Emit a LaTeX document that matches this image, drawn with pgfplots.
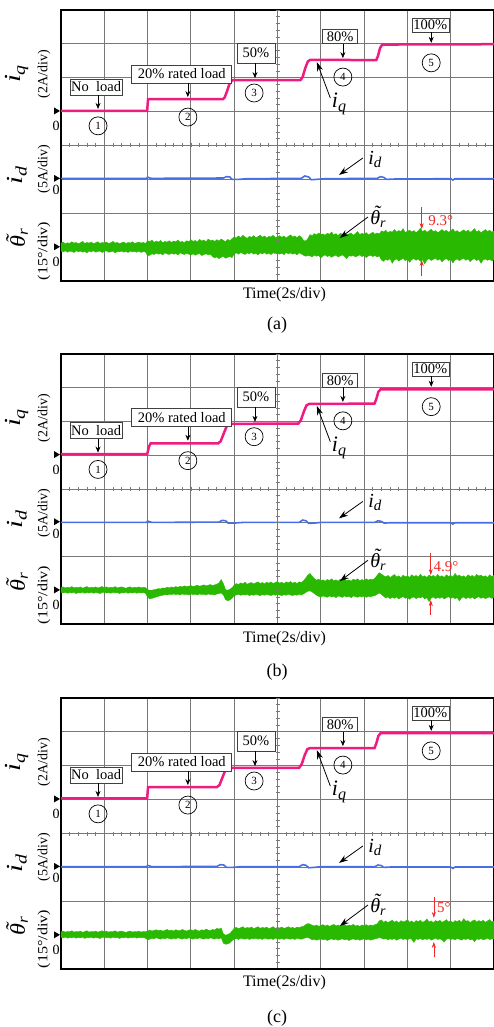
\documentclass[border=0pt]{standalone}
\usepackage{fontspec}
\setmainfont{Liberation Serif}
\usepackage{pgfplots}
\pgfplotsset{compat=1.18}
\usepackage{pgfplotstable}
\usepgfplotslibrary{fillbetween}
\usetikzlibrary{arrows.meta}
\definecolor{iqc}{RGB}{238,28,128}
\definecolor{idc}{RGB}{70,110,230}
\definecolor{thc}{RGB}{40,185,0}
\definecolor{gridc}{RGB}{120,120,120}
\definecolor{redc}{RGB}{240,40,40}
\newcommand{\fs}[1]{\fontsize{#1}{#1}\selectfont}
\newcommand{\tth}{\textit{\rlap{\hspace{0.17em}\raisebox{0.22em}{˜}}θ}}

\pgfplotstableread{
x top bot
0.00 1.12 0.88
0.05 1.15 0.86
0.10 1.10 0.89
0.15 1.13 0.85
0.20 1.11 0.88
0.25 1.16 0.87
0.30 1.12 0.84
0.35 1.14 0.89
0.40 1.10 0.86
0.45 1.13 0.88
0.50 1.17 0.85
0.55 1.11 0.87
0.60 1.14 0.83
0.65 1.12 0.88
0.70 1.15 0.86
0.75 1.10 0.89
0.80 1.13 0.85
0.85 1.16 0.87
0.90 1.11 0.88
0.95 1.14 0.84
1.00 1.12 0.87
1.05 1.15 0.89
1.10 1.11 0.85
1.15 1.13 0.86
1.20 1.17 0.88
1.25 1.12 0.83
1.30 1.14 0.87
1.35 1.10 0.86
1.40 1.13 0.88
1.45 1.15 0.85
1.50 1.11 0.87
1.55 1.14 0.84
1.60 1.12 0.88
1.65 1.16 0.86
1.70 1.11 0.87
1.75 1.13 0.85
1.80 1.15 0.88
1.85 1.12 0.84
1.90 1.14 0.87
1.95 1.11 0.86
2.00 1.19 0.74
2.05 1.16 0.76
2.10 1.21 0.80
2.15 1.14 0.78
2.20 1.18 0.82
2.25 1.15 0.79
2.30 1.20 0.81
2.35 1.13 0.77
2.40 1.17 0.83
2.45 1.15 0.80
2.50 1.19 0.78
2.55 1.14 0.82
2.60 1.18 0.79
2.65 1.16 0.81
2.70 1.21 0.77
2.75 1.15 0.83
2.80 1.17 0.80
2.85 1.13 0.78
2.90 1.19 0.82
2.95 1.16 0.79
3.00 1.22 0.77
3.05 1.17 0.80
3.10 1.20 0.76
3.15 1.15 0.79
3.20 1.23 0.81
3.25 1.18 0.75
3.30 1.21 0.78
3.35 1.16 0.80
3.40 1.24 0.77
3.45 1.19 0.79
3.50 1.21 0.72
3.55 1.17 0.68
3.60 1.22 0.71
3.65 1.18 0.66
3.70 1.24 0.70
3.75 1.20 0.73
3.80 1.16 0.67
3.85 1.23 0.70
3.90 1.19 0.72
3.95 1.25 0.69
4.00 1.30 0.80
4.05 1.27 0.83
4.10 1.33 0.79
4.15 1.28 0.84
4.20 1.35 0.81
4.25 1.30 0.78
4.30 1.26 0.83
4.35 1.32 0.80
4.40 1.29 0.85
4.45 1.34 0.79
4.50 1.28 0.82
4.55 1.31 0.77
4.60 1.36 0.83
4.65 1.29 0.80
4.70 1.33 0.84
4.75 1.27 0.79
4.80 1.32 0.82
4.85 1.30 0.78
4.90 1.35 0.83
4.95 1.28 0.81
5.00 1.31 0.85
5.05 1.34 0.79
5.10 1.29 0.82
5.15 1.33 0.78
5.20 1.27 0.84
5.25 1.32 0.80
5.30 1.36 0.83
5.35 1.30 0.79
5.40 1.33 0.82
5.45 1.28 0.77
5.50 1.34 0.83
5.55 1.30 0.80
5.60 1.20 0.76
5.65 1.18 0.73
5.70 1.25 0.75
5.75 1.37 0.74
5.80 1.34 0.71
5.85 1.40 0.76
5.90 1.36 0.73
5.95 1.42 0.75
6.00 1.37 0.68
6.05 1.39 0.74
6.10 1.35 0.77
6.15 1.41 0.72
6.20 1.38 0.75
6.25 1.45 0.70
6.30 1.36 0.74
6.35 1.40 0.76
6.40 1.34 0.71
6.45 1.41 0.74
6.50 1.38 0.77
6.55 1.43 0.72
6.60 1.36 0.66
6.65 1.39 0.75
6.70 1.42 0.73
6.75 1.35 0.76
6.80 1.40 0.71
6.85 1.46 0.74
6.90 1.37 0.77
6.95 1.41 0.72
7.00 1.38 0.75
7.05 1.43 0.69
7.10 1.36 0.74
7.15 1.40 0.76
7.20 1.44 0.72
7.25 1.38 0.75
7.30 1.42 0.71
7.35 1.39 0.74
7.40 1.48 0.62
7.45 1.45 0.58
7.50 1.50 0.64
7.55 1.43 0.61
7.60 1.47 0.66
7.65 1.44 0.52
7.70 1.52 0.62
7.75 1.45 0.65
7.80 1.49 0.59
7.85 1.46 0.63
7.90 1.55 0.67
7.95 1.43 0.60
8.00 1.47 0.64
8.05 1.50 0.55
8.10 1.45 0.63
8.15 1.49 0.66
8.20 1.43 0.61
8.25 1.48 0.65
8.30 1.56 0.58
8.35 1.46 0.63
8.40 1.50 0.50
8.45 1.44 0.62
8.50 1.48 0.66
8.55 1.53 0.60
8.60 1.45 0.64
8.65 1.49 0.67
8.70 1.43 0.61
8.75 1.47 0.65
8.80 1.52 0.56
8.85 1.46 0.63
8.90 1.50 0.66
8.95 1.44 0.60
9.00 1.48 0.64
9.05 1.54 0.53
9.10 1.45 0.62
9.15 1.49 0.65
9.20 1.43 0.60
9.25 1.47 0.64
9.30 1.51 0.67
9.35 1.46 0.61
9.40 1.50 0.65
9.45 1.44 0.57
9.50 1.48 0.63
9.55 1.55 0.66
9.60 1.45 0.60
9.65 1.49 0.64
9.70 1.43 0.52
9.75 1.47 0.62
9.80 1.52 0.65
9.85 1.46 0.61
9.90 1.50 0.64
9.95 1.44 0.59
10.00 1.48 0.63
}\thA

\pgfplotstableread{
x top bot
0.00 1.08 0.93
0.05 1.10 0.92
0.10 1.07 0.94
0.15 1.09 0.91
0.20 1.08 0.93
0.25 1.11 0.92
0.30 1.07 0.94
0.35 1.09 0.90
0.40 1.08 0.93
0.45 1.10 0.92
0.50 1.06 0.94
0.55 1.09 0.91
0.60 1.11 0.93
0.65 1.07 0.92
0.70 1.09 0.94
0.75 1.08 0.91
0.80 1.10 0.93
0.85 1.07 0.92
0.90 1.09 0.90
0.95 1.11 0.93
1.00 1.08 0.94
1.05 1.10 0.92
1.10 1.07 0.93
1.15 1.09 0.91
1.20 1.08 0.94
1.25 1.11 0.92
1.30 1.07 0.93
1.35 1.09 0.90
1.40 1.10 0.93
1.45 1.08 0.92
1.50 1.06 0.94
1.55 1.09 0.91
1.60 1.10 0.93
1.65 1.07 0.92
1.70 1.09 0.94
1.75 1.08 0.91
1.80 1.10 0.93
1.85 1.07 0.92
1.90 1.09 0.93
1.95 1.08 0.91
2.00 1.02 0.80
2.05 0.99 0.74
2.10 1.00 0.76
2.15 1.02 0.78
2.20 1.03 0.80
2.25 1.05 0.82
2.30 1.04 0.84
2.35 1.07 0.85
2.40 1.06 0.87
2.45 1.09 0.86
2.50 1.07 0.88
2.55 1.10 0.87
2.60 1.08 0.89
2.65 1.11 0.87
2.70 1.09 0.88
2.75 1.12 0.86
2.80 1.10 0.89
2.85 1.13 0.87
2.90 1.11 0.88
2.95 1.12 0.86
3.00 1.14 0.89
3.05 1.11 0.87
3.10 1.13 0.88
3.15 1.15 0.86
3.20 1.12 0.89
3.25 1.14 0.87
3.30 1.16 0.88
3.35 1.13 0.86
3.40 1.15 0.89
3.45 1.17 0.87
3.50 1.14 0.88
3.55 1.16 0.86
3.60 1.18 0.89
3.65 1.22 0.90
3.70 1.32 0.92
3.75 1.20 0.86
3.80 1.02 0.72
3.85 1.00 0.69
3.90 1.03 0.71
3.95 1.08 0.76
4.00 1.15 0.84
4.05 1.20 0.86
4.10 1.17 0.88
4.15 1.22 0.85
4.20 1.19 0.87
4.25 1.24 0.86
4.30 1.18 0.88
4.35 1.21 0.84
4.40 1.23 0.87
4.45 1.19 0.85
4.50 1.22 0.88
4.55 1.25 0.86
4.60 1.20 0.84
4.65 1.23 0.87
4.70 1.19 0.85
4.75 1.24 0.88
4.80 1.21 0.86
4.85 1.25 0.84
4.90 1.20 0.87
4.95 1.23 0.85
5.00 1.26 0.88
5.05 1.21 0.86
5.10 1.24 0.84
5.15 1.20 0.87
5.20 1.25 0.85
5.25 1.22 0.88
5.30 1.26 0.86
5.35 1.21 0.84
5.40 1.24 0.87
5.45 1.20 0.85
5.50 1.25 0.88
5.55 1.23 0.86
5.60 1.28 0.89
5.65 1.36 0.93
5.70 1.45 0.97
5.75 1.50 0.98
5.80 1.42 0.95
5.85 1.35 0.90
5.90 1.30 0.85
5.95 1.33 0.82
6.00 1.28 0.80
6.05 1.31 0.83
6.10 1.27 0.81
6.15 1.32 0.79
6.20 1.29 0.83
6.25 1.34 0.80
6.30 1.28 0.82
6.35 1.31 0.78
6.40 1.27 0.83
6.45 1.33 0.81
6.50 1.30 0.79
6.55 1.35 0.83
6.60 1.28 0.80
6.65 1.31 0.82
6.70 1.27 0.78
6.75 1.33 0.83
6.80 1.30 0.81
6.85 1.34 0.79
6.90 1.28 0.82
6.95 1.32 0.80
7.00 1.29 0.83
7.05 1.34 0.79
7.10 1.30 0.82
7.15 1.33 0.80
7.20 1.31 0.83
7.25 1.36 0.84
7.30 1.44 0.88
7.35 1.52 0.92
7.40 1.48 0.88
7.45 1.43 0.82
7.50 1.40 0.77
7.55 1.44 0.80
7.60 1.38 0.75
7.65 1.42 0.79
7.70 1.47 0.76
7.75 1.39 0.80
7.80 1.43 0.74
7.85 1.37 0.78
7.90 1.45 0.81
7.95 1.40 0.76
8.00 1.43 0.79
8.05 1.38 0.73
8.10 1.46 0.78
8.15 1.41 0.80
8.20 1.44 0.75
8.25 1.39 0.79
8.30 1.48 0.77
8.35 1.40 0.81
8.40 1.43 0.74
8.45 1.38 0.78
8.50 1.45 0.66
8.55 1.41 0.77
8.60 1.44 0.80
8.65 1.39 0.75
8.70 1.47 0.79
8.75 1.40 0.76
8.80 1.43 0.80
8.85 1.38 0.74
8.90 1.46 0.78
8.95 1.41 0.81
9.00 1.44 0.76
9.05 1.39 0.79
9.10 1.50 0.75
9.15 1.42 0.78
9.20 1.45 0.68
9.25 1.40 0.77
9.30 1.43 0.80
9.35 1.38 0.75
9.40 1.46 0.79
9.45 1.41 0.76
9.50 1.44 0.80
9.55 1.39 0.74
9.60 1.47 0.78
9.65 1.42 0.81
9.70 1.45 0.76
9.75 1.40 0.79
9.80 1.43 0.75
9.85 1.38 0.78
9.90 1.46 0.80
9.95 1.41 0.76
10.00 1.44 0.79
}\thB

\pgfplotstableread{
x top bot
0.00 1.10 0.93
0.05 1.12 0.92
0.10 1.09 0.94
0.15 1.11 0.91
0.20 1.10 0.93
0.25 1.13 0.92
0.30 1.09 0.94
0.35 1.11 0.91
0.40 1.10 0.93
0.45 1.12 0.92
0.50 1.08 0.94
0.55 1.11 0.90
0.60 1.13 0.93
0.65 1.09 0.92
0.70 1.11 0.94
0.75 1.10 0.91
0.80 1.12 0.93
0.85 1.09 0.92
0.90 1.11 0.90
0.95 1.13 0.93
1.00 1.10 0.94
1.05 1.12 0.92
1.10 1.09 0.93
1.15 1.11 0.91
1.20 1.10 0.94
1.25 1.13 0.92
1.30 1.09 0.93
1.35 1.11 0.90
1.40 1.12 0.93
1.45 1.10 0.92
1.50 1.08 0.94
1.55 1.11 0.91
1.60 1.12 0.93
1.65 1.09 0.92
1.70 1.11 0.94
1.75 1.10 0.91
1.80 1.12 0.93
1.85 1.09 0.92
1.90 1.11 0.93
1.95 1.10 0.91
2.00 1.12 0.86
2.05 1.15 0.88
2.10 1.12 0.91
2.15 1.14 0.89
2.20 1.16 0.92
2.25 1.13 0.90
2.30 1.15 0.88
2.35 1.12 0.91
2.40 1.14 0.89
2.45 1.17 0.92
2.50 1.13 0.90
2.55 1.15 0.88
2.60 1.12 0.91
2.65 1.16 0.89
2.70 1.14 0.92
2.75 1.13 0.90
2.80 1.17 0.88
2.85 1.14 0.91
2.90 1.12 0.89
2.95 1.15 0.92
3.00 1.16 0.90
3.05 1.13 0.88
3.10 1.17 0.91
3.15 1.14 0.89
3.20 1.12 0.92
3.25 1.16 0.90
3.30 1.14 0.88
3.35 1.18 0.91
3.40 1.15 0.89
3.45 1.13 0.92
3.50 1.17 0.90
3.55 1.15 0.88
3.60 1.20 0.91
3.65 1.18 0.89
3.70 1.21 0.92
3.75 1.04 0.76
3.80 1.00 0.73
3.85 1.02 0.74
3.90 1.05 0.77
3.95 1.12 0.84
4.00 1.20 0.88
4.05 1.23 0.90
4.10 1.19 0.87
4.15 1.22 0.91
4.20 1.25 0.89
4.25 1.20 0.88
4.30 1.23 0.91
4.35 1.21 0.87
4.40 1.24 0.90
4.45 1.19 0.89
4.50 1.22 0.91
4.55 1.25 0.88
4.60 1.20 0.90
4.65 1.23 0.87
4.70 1.21 0.91
4.75 1.24 0.89
4.80 1.19 0.88
4.85 1.22 0.90
4.90 1.25 0.87
4.95 1.20 0.91
5.00 1.23 0.89
5.05 1.21 0.88
5.10 1.24 0.90
5.15 1.20 0.87
5.20 1.22 0.91
5.25 1.25 0.89
5.30 1.21 0.88
5.35 1.23 0.90
5.40 1.20 0.87
5.45 1.24 0.91
5.50 1.22 0.89
5.55 1.25 0.88
5.60 1.26 0.90
5.65 1.31 0.92
5.70 1.34 0.93
5.75 1.33 0.90
5.80 1.29 0.86
5.85 1.27 0.88
5.90 1.30 0.85
5.95 1.26 0.87
6.00 1.29 0.89
6.05 1.31 0.86
6.10 1.27 0.88
6.15 1.30 0.84
6.20 1.26 0.87
6.25 1.29 0.89
6.30 1.32 0.86
6.35 1.27 0.88
6.40 1.30 0.85
6.45 1.26 0.87
6.50 1.29 0.89
6.55 1.31 0.86
6.60 1.27 0.88
6.65 1.30 0.84
6.70 1.28 0.87
6.75 1.32 0.89
6.80 1.27 0.86
6.85 1.29 0.88
6.90 1.26 0.85
6.95 1.30 0.87
7.00 1.28 0.89
7.05 1.31 0.86
7.10 1.27 0.88
7.15 1.30 0.85
7.20 1.28 0.87
7.25 1.31 0.89
7.30 1.33 0.90
7.35 1.42 0.93
7.40 1.45 0.91
7.45 1.38 0.88
7.50 1.42 0.90
7.55 1.37 0.86
7.60 1.41 0.89
7.65 1.44 0.87
7.70 1.38 0.90
7.75 1.42 0.85
7.80 1.36 0.88
7.85 1.43 0.91
7.90 1.39 0.87
7.95 1.41 0.89
8.00 1.46 0.86
8.05 1.38 0.90
8.10 1.42 0.88
8.15 1.37 0.78
8.20 1.43 0.89
8.25 1.40 0.87
8.30 1.44 0.90
8.35 1.38 0.86
8.40 1.41 0.89
8.45 1.48 0.87
8.50 1.39 0.90
8.55 1.42 0.85
8.60 1.37 0.88
8.65 1.43 0.91
8.70 1.40 0.87
8.75 1.44 0.89
8.80 1.38 0.86
8.85 1.41 0.79
8.90 1.46 0.88
8.95 1.39 0.90
9.00 1.42 0.87
9.05 1.37 0.89
9.10 1.43 0.86
9.15 1.40 0.90
9.20 1.44 0.88
9.25 1.38 0.85
9.30 1.49 0.89
9.35 1.41 0.87
9.40 1.43 0.90
9.45 1.37 0.86
9.50 1.42 0.88
9.55 1.45 0.80
9.60 1.39 0.89
9.65 1.43 0.87
9.70 1.40 0.90
9.75 1.44 0.86
9.80 1.38 0.88
9.85 1.42 0.91
9.90 1.46 0.87
9.95 1.39 0.89
10.00 1.42 0.88
}\thC

\pgfplotsset{
  panel/.style={
    scale only axis, width=433pt, anchor=north west,
    xmin=0, xmax=10, ymin=0, ymax=8,
    xtick={0,...,10}, ytick={0,...,8},
    xticklabels={}, yticklabels={},
    major tick length=0pt,
    grid=major, major grid style={draw=gridc, line width=0.9pt},
    axis line style={line width=2pt, black},
    clip=false,
  },
}
\tikzset{
  lbox/.style={draw=black!75, line width=0.7pt, fill=white, inner sep=0pt, font=\fs{14.5}},
  circ/.style={circle, draw=black, line width=0.7pt, minimum size=18pt, inner sep=0pt, font=\fs{11}},
  barr/.style={-{Stealth[length=6pt,width=5pt]}, line width=0.7pt, black},
  larr/.style={-{Stealth[length=9pt,width=6pt]}, line width=0.8pt, black},
  rarr/.style={-{Stealth[length=6pt,width=4pt]}, line width=0.6pt, redc},
}

% annotations common to every panel
\newcommand{\commonannot}{%
  \pgfplotsinvokeforeach{0.2,0.4,...,9.9}{\draw[gridc, line width=0.8pt] (axis cs:##1,4) ++(0,-2pt) -- ++(0,4pt);}
  \pgfplotsinvokeforeach{0.2,0.4,...,7.9}{\draw[gridc, line width=0.8pt] (axis cs:5,##1) ++(-2pt,0) -- ++(4pt,0);}
  \node[lbox, minimum width=52pt, minimum height=16pt] at (axis cs:0.81,5.73) {No\ \ load};
  \draw[barr] (axis cs:0.855,5.49) -- (axis cs:0.855,5.08);
  \node[circ] at (axis cs:0.855,4.58) {1};
  \node[lbox, minimum width=100pt, minimum height=18pt] at (axis cs:2.79,6.11) {20\% rated load};
  \draw[barr] (axis cs:2.93,5.85) -- (axis cs:2.93,5.43);
  \node[circ] at (axis cs:2.93,4.84) {2};
  \node[lbox, minimum width=38pt, minimum height=20pt] at (axis cs:4.50,6.73) {50\%};
  \draw[barr] (axis cs:4.48,6.44) -- (axis cs:4.48,5.99);
  \node[circ] at (axis cs:4.46,5.55) {3};
  \node[lbox, minimum width=35pt, minimum height=14pt] at (axis cs:6.45,7.22) {80\%};
  \draw[barr] (axis cs:6.51,7.01) -- (axis cs:6.51,6.58);
  \node[circ] at (axis cs:6.51,6.02) {4};
  \node[lbox, minimum width=37pt, minimum height=14pt] at (axis cs:8.53,7.56) {100\%};
  \draw[barr] (axis cs:8.55,7.35) -- (axis cs:8.55,7.03);
  \node[circ] at (axis cs:8.55,6.44) {5};
  \node[font=\fs{22}] at (axis cs:6.42,5.22) {\textit{i}\raisebox{-4pt}{\fs{16}\textit{q}}};
  \draw[larr] (axis cs:6.22,5.40) -- (axis cs:5.91,6.46);
  \node[font=\fs{20}] at (axis cs:7.25,3.60) {\textit{i}\raisebox{-3pt}{\fs{15}\textit{d}}};
  \draw[larr] (axis cs:6.97,3.63) -- (axis cs:6.42,3.13);
  \node[font=\fs{20}] at (axis cs:7.32,1.90) {\tth\raisebox{-3pt}{\fs{14}\textit{r}}};
  \draw[larr] (axis cs:7.09,1.89) -- (axis cs:6.44,1.27);
  \fill (axis cs:0,5.02) ++(-1pt,0) -- ++(-6pt,3.5pt) -- ++(0,-7pt) -- cycle;
  \fill (axis cs:0,3.03) ++(-1pt,0) -- ++(-6pt,3.5pt) -- ++(0,-7pt) -- cycle;
  \fill (axis cs:0,1.01) ++(-1pt,0) -- ++(-6pt,3.5pt) -- ++(0,-7pt) -- cycle;
  \node[font=\fs{14}] at (axis cs:-0.11,4.58) {0};
  \node[font=\fs{14}] at (axis cs:-0.11,2.68) {0};
  \node[font=\fs{14}] at (axis cs:-0.11,0.57) {0};
}

\newcommand{\leftlabels}[1]{%
  \node[rotate=90, xscale=1.25, font=\fs{23}] at ({17pt},{-(#1+64)*1pt}) {\textit{i}\raisebox{-4pt}{\fs{16}\textit{q}}};
  \node[rotate=90, font=\fs{14}] at ({44pt},{-(#1+64)*1pt}) {(2A/div)};
  \node[rotate=90, xscale=1.25, font=\fs{23}] at ({17pt},{-(#1+165)*1pt}) {\textit{i}\raisebox{-4pt}{\fs{16}\textit{d}}};
  \node[rotate=90, font=\fs{14}] at ({44pt},{-(#1+159)*1pt}) {(5A/div)};
  \node[rotate=90, xscale=1.15, font=\fs{21}] at ({17pt},{-(#1+228)*1pt}) {\tth\raisebox{-3pt}{\fs{15}\textit{r}}};
  \node[rotate=90, xscale=1.15, font=\fs{14}] at ({44pt},{-(#1+241)*1pt}) {(15°/div)};
}

\begin{document}
\begin{tikzpicture}

% ---------------- panel (a)
\begin{axis}[panel, at={(61pt,-10pt)}, height=271pt]
\addplot[name path=tA, draw=none, forget plot] table[x=x,y=top]{\thA};
\addplot[name path=bA, draw=none, forget plot] table[x=x,y=bot]{\thA};
\addplot[fill=thc, draw=thc, line width=0.3pt] fill between[of=tA and bA];
\addplot[idc, line width=1.6pt] coordinates {(0,3.03)(1.98,3.03)(2.0,3.07)(2.05,3.04)(2.1,3.03)(3.75,3.04)(3.82,3.08)(3.9,3.07)(3.95,3.0)(4.1,3.0)(4.3,3.02)(5.55,3.03)(5.63,3.10)(5.72,3.07)(5.78,2.99)(5.9,3.0)(6.1,3.02)(7.3,3.03)(7.38,3.08)(7.45,3.06)(7.52,3.0)(7.7,3.01)(9.0,3.02)(9.05,2.98)(9.1,3.02)(10,3.02)};
\addplot[iqc, line width=2.5pt] coordinates {(0,5.02)(1.99,5.02)(2.01,5.37)(3.74,5.37)(3.78,5.42)(3.84,5.62)(3.90,5.85)(3.96,5.93)(5.53,5.93)(5.58,6.02)(5.64,6.28)(5.70,6.48)(5.76,6.53)(7.28,6.52)(7.32,6.64)(7.37,6.88)(7.42,6.98)(10,6.99)};
\commonannot
\draw[rarr] (axis cs:8.33,2.18) -- (axis cs:8.33,1.53);
\draw[rarr] (axis cs:8.33,0.15) -- (axis cs:8.33,0.62);
\node[redc, anchor=west, font=\fs{15}, inner sep=0pt] at (axis cs:8.48,1.77) {9.3°};
\end{axis}
\leftlabels{10}
\node[font=\fs{16}] at (284.5pt,-295pt) {Time(2s/div)};
\node[font=\fs{18}] at (277pt,-325pt) {(a)};

% ---------------- panel (b)
\begin{axis}[panel, at={(61pt,-354pt)}, height=270pt]
\addplot[name path=tB, draw=none, forget plot] table[x=x,y=top]{\thB};
\addplot[name path=bB, draw=none, forget plot] table[x=x,y=bot]{\thB};
\addplot[fill=thc, draw=thc, line width=0.3pt] fill between[of=tB and bB];
\addplot[idc, line width=1.6pt] coordinates {(0,3.01)(1.98,3.01)(2.0,3.05)(2.05,3.03)(2.1,3.01)(3.65,3.02)(3.72,3.07)(3.8,3.06)(3.86,2.99)(4.0,2.99)(4.2,3.01)(5.5,3.01)(5.58,3.08)(5.66,3.06)(5.72,2.98)(5.85,2.99)(6.0,3.01)(7.25,3.01)(7.32,3.06)(7.40,3.04)(7.46,2.99)(7.6,3.0)(9.0,3.0)(9.05,2.96)(9.1,3.0)(10,3.0)};
\addplot[iqc, line width=2.5pt] coordinates {(0,5.03)(1.99,5.03)(2.03,5.25)(2.07,5.35)(3.63,5.35)(3.69,5.42)(3.76,5.65)(3.83,5.87)(3.90,5.93)(5.48,5.94)(5.54,6.04)(5.61,6.30)(5.67,6.48)(5.73,6.52)(7.24,6.53)(7.28,6.66)(7.33,6.88)(7.38,6.95)(10,6.95)};
\commonannot
\draw[rarr] (axis cs:8.54,2.10) -- (axis cs:8.54,1.45);
\draw[rarr] (axis cs:8.54,0.27) -- (axis cs:8.54,0.71);
\node[redc, anchor=west, font=\fs{15}, inner sep=0pt] at (axis cs:8.60,1.69) {4.9°};
\end{axis}
\leftlabels{354}
\node[font=\fs{16}] at (284.5pt,-639pt) {Time(2s/div)};
\node[font=\fs{18}] at (277pt,-672pt) {(b)};

% ---------------- panel (c)
\begin{axis}[panel, at={(61pt,-698pt)}, height=271pt]
\addplot[name path=tC, draw=none, forget plot] table[x=x,y=top]{\thC};
\addplot[name path=bC, draw=none, forget plot] table[x=x,y=bot]{\thC};
\addplot[fill=thc, draw=thc, line width=0.3pt] fill between[of=tC and bC];
\addplot[idc, line width=1.6pt] coordinates {(0,3.02)(1.98,3.02)(2.0,3.06)(2.05,3.04)(2.1,3.02)(3.6,3.03)(3.68,3.08)(3.76,3.07)(3.82,3.0)(3.95,3.0)(4.15,3.02)(5.5,3.02)(5.58,3.08)(5.66,3.06)(5.72,2.99)(5.85,3.0)(6.0,3.02)(7.25,3.02)(7.32,3.07)(7.40,3.05)(7.46,3.0)(7.6,3.01)(9.0,3.01)(9.05,2.97)(9.1,3.01)(10,3.01)};
\addplot[iqc, line width=2.5pt] coordinates {(0,5.04)(1.99,5.04)(2.01,5.37)(3.60,5.37)(3.66,5.43)(3.73,5.66)(3.80,5.88)(3.87,5.94)(5.50,5.94)(5.56,6.05)(5.63,6.32)(5.69,6.49)(5.75,6.52)(7.24,6.52)(7.28,6.65)(7.33,6.88)(7.38,6.96)(10,6.96)};
\commonannot
\draw[rarr] (axis cs:8.61,2.13) -- (axis cs:8.61,1.51);
\draw[rarr] (axis cs:8.61,0.35) -- (axis cs:8.61,0.80);
\node[redc, anchor=west, font=\fs{15}, inner sep=0pt] at (axis cs:8.68,1.81) {5°};
\end{axis}
\leftlabels{698}
\node[font=\fs{16}] at (284.5pt,-983pt) {Time(2s/div)};
\node[font=\fs{18}] at (277pt,-1018pt) {(c)};

\pgfresetboundingbox
\path[use as bounding box] (0pt,0pt) rectangle (493pt,-1027pt);
\end{tikzpicture}
\end{document}
